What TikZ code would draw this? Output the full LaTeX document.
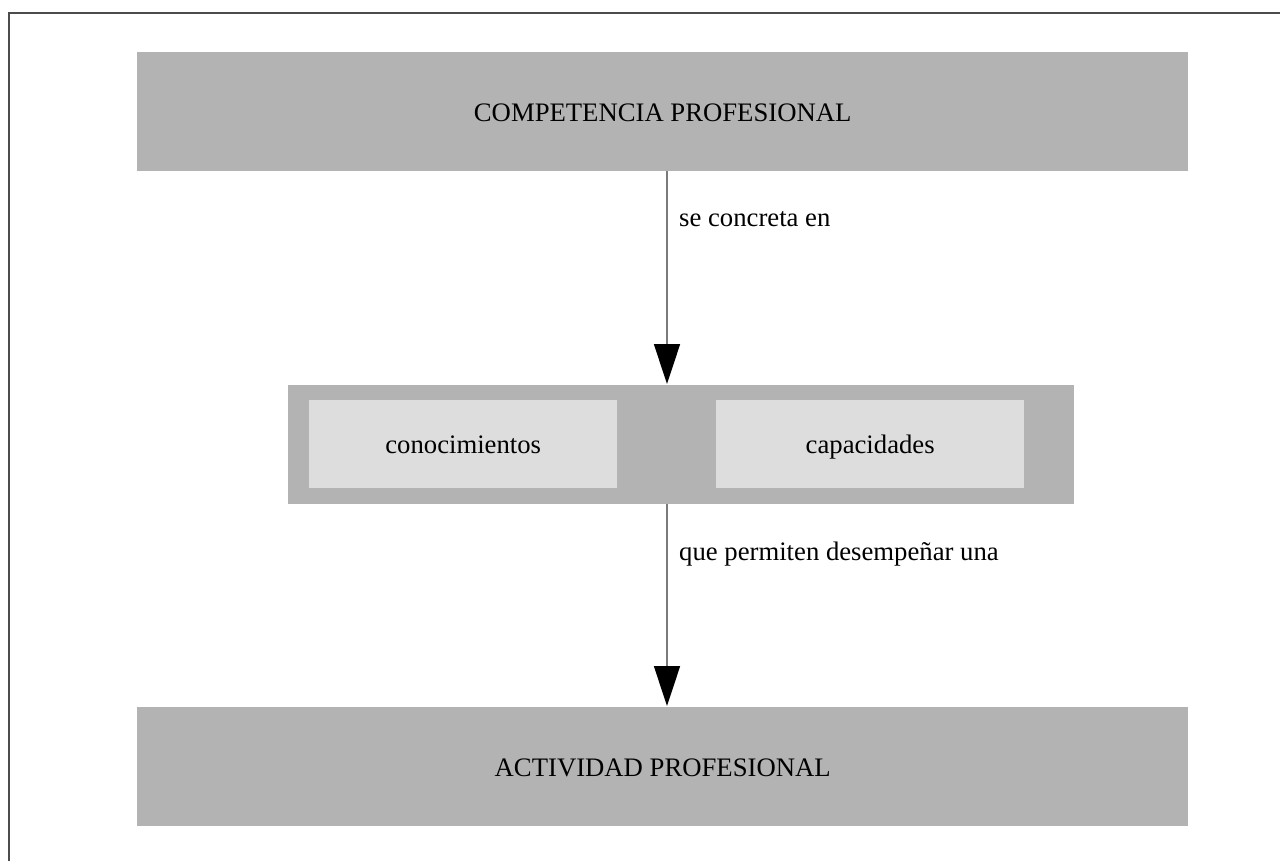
\documentclass[tikz,border=0pt]{standalone}
\usepackage{fontspec}
\setmainfont{Liberation Serif}
\usetikzlibrary{arrows.meta}
\definecolor{boxgray}{HTML}{B3B3B3}
\definecolor{innergray}{HTML}{DDDDDD}
\definecolor{linegray}{HTML}{7A7A7A}
\begin{document}
\begin{tikzpicture}[x=1pt,y=-1pt,
  every node/.style={font=\fontsize{26.7}{32}\selectfont, text=black},
  boxtext/.style={text height=21pt, text depth=1.5pt, inner sep=0pt, anchor=north west, draw=none},
  bigbox/.style={boxtext, fill=boxgray, minimum width=1051pt, minimum height=119pt},
  outerbox/.style={boxtext, fill=boxgray, minimum width=786pt, minimum height=119pt},
  innerbox/.style={boxtext, fill=innergray, minimum width=308pt, minimum height=88pt},
  link/.style={draw=linegray, line width=1.6pt, -{Triangle[width=26pt,length=40pt,color=black]}, shorten >=1pt},
  linklabel/.style={anchor=base west, inner sep=0pt}]
  \useasboundingbox (0,0) rectangle (1280,861);
  % frame
  \draw[draw=black!70, line width=2pt] (8.5,861) -- (8.5,13.5) -- (1280,13.5);
  % boxes
  \node[bigbox] (comp) at (137,52) {COMPETENCIA PROFESIONAL};
  \node[outerbox] (mid) at (288,385) {};
  \node[innerbox] (con) at (309,400) {conocimientos};
  \node[innerbox] (cap) at (716,400) {capacidades};
  \node[bigbox] (act) at (137,707) {ACTIVIDAD PROFESIONAL};
  % connectors
  \draw[link] (comp.south -| 667,0) -- (mid.north -| 667,0);
  \draw[link] (mid.south -| 667,0) -- (act.north -| 667,0);
  % labels
  \node[linklabel] (l1) at (679,227) {se concreta en};
  \node[linklabel] (l2) at (679,560) {que permiten desempeñar una};
\end{tikzpicture}
\end{document}
